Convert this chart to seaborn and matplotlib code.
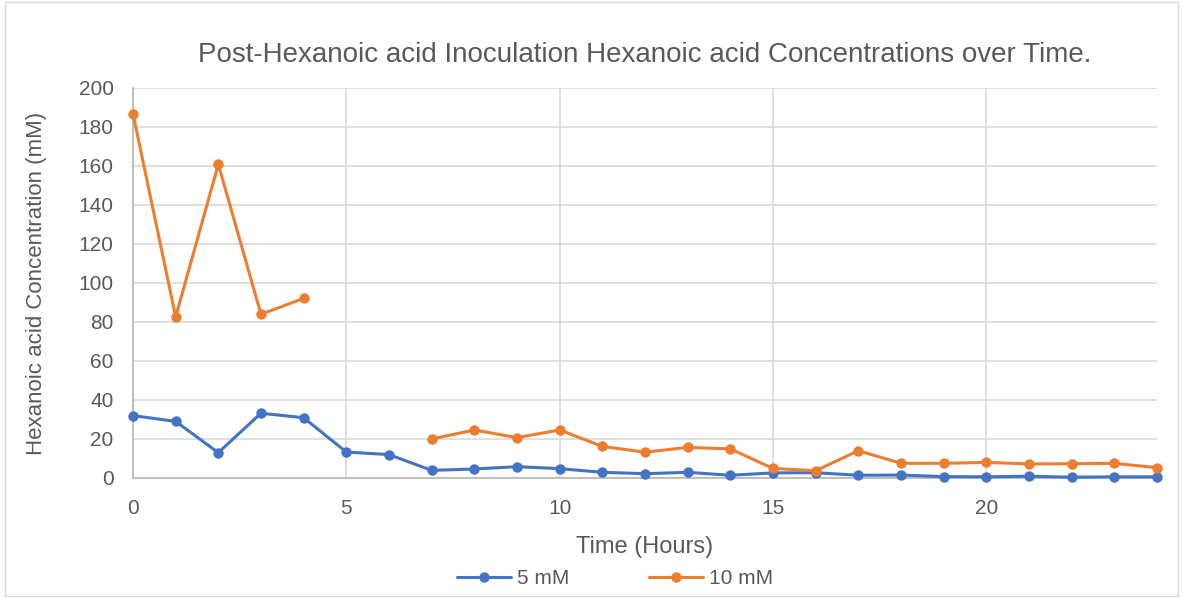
import numpy as np
import pandas as pd
import seaborn as sns
import matplotlib.pyplot as plt

hours = list(range(25))
conc_5mM = [32.0, 29.0, 13.0, 33.2, 30.9, 13.3, 12.0, 3.9, 4.6, 5.8, 4.8, 2.9, 2.2,
            2.9, 1.4, 2.6, 2.7, 1.4, 1.5, 0.7, 0.6, 0.9, 0.4, 0.6, 0.6]
conc_10mM = [186.8, 82.6, 160.8, 83.9, 92.1, np.nan, np.nan, 20.0, 24.6, 20.7, 24.6, 16.2, 13.2,
             15.7, 14.9, 4.9, 3.7, 14.0, 7.5, 7.5, 8.0, 7.2, 7.3, 7.5, 5.3]
series_names = ['5 mM', '10 mM']
colors = ['#4472C4', '#ED7D31']

# long table, gaps split into separate segments so lines break at missing values
rows = []
for name, vals in zip(series_names, [conc_5mM, conc_10mM]):
    seg = 0
    for h, v in zip(hours, vals):
        if np.isnan(v):
            seg += 1
            continue
        rows.append({'hour': h, 'conc': v, 'series': name, 'seg': f'{name}_{seg}'})
df = pd.DataFrame(rows)

sns.set_style('white')
plt.rcParams['font.family'] = ['Liberation Sans', 'DejaVu Sans']
text_col = '#595959'

fig = plt.figure(figsize=(11.83, 5.98), dpi=100)
ax = fig.add_axes([0.1124, 0.2007, 0.8656, 0.6523])

sns.lineplot(data=df, x='hour', y='conc', hue='series', units='seg', estimator=None,
             palette=colors, hue_order=series_names, marker='o', markersize=7.5,
             markeredgewidth=0, linewidth=2.2, ax=ax, legend=False, zorder=3)
for ln in ax.lines:
    ln.set_clip_on(False)

ax.set_xlim(0, 24)
ax.set_ylim(0, 200)
ax.set_xticks([0, 5, 10, 15, 20])
ax.set_yticks(range(0, 201, 20))
ax.grid(True, color='#D9D9D9', linewidth=1.2)
ax.set_axisbelow(True)
for s in ['top', 'right']:
    ax.spines[s].set_visible(False)
for s in ['left', 'bottom']:
    ax.spines[s].set_color('#BFBFBF')
    ax.spines[s].set_linewidth(1.5)
ax.tick_params(axis='both', length=0, labelsize=15, labelcolor=text_col)
ax.tick_params(axis='y', pad=14)
ax.tick_params(axis='x', pad=15)
ax.set_xlabel('Time (Hours)', fontsize=17, color=text_col)
ax.xaxis.set_label_coords(0.5, -0.148)
ax.set_ylabel('Hexanoic acid Concentration (mM)', fontsize=16, color=text_col)
ax.yaxis.set_label_coords(-0.084, 0.5)
ax.set_title('Post-Hexanoic acid Inoculation Hexanoic acid Concentrations over Time.',
             fontsize=20, color=text_col, pad=19)

handles = [plt.Line2D([], [], color=c, marker='o', markersize=7.5, linewidth=2.2,
                      markeredgewidth=0) for c in colors]
fig.legend(handles, series_names, loc='center', bbox_to_anchor=(0.52, 0.032), ncol=2,
           frameon=False, fontsize=15, labelcolor=text_col, handlelength=2.6,
           columnspacing=3.8, handletextpad=0.3)

fig.patches.append(plt.Rectangle((0.004, 0.004), 0.992, 0.992, transform=fig.transFigure,
                                 fill=False, edgecolor='#D9D9D9', linewidth=1))
fig.savefig('out.png', dpi=100)
